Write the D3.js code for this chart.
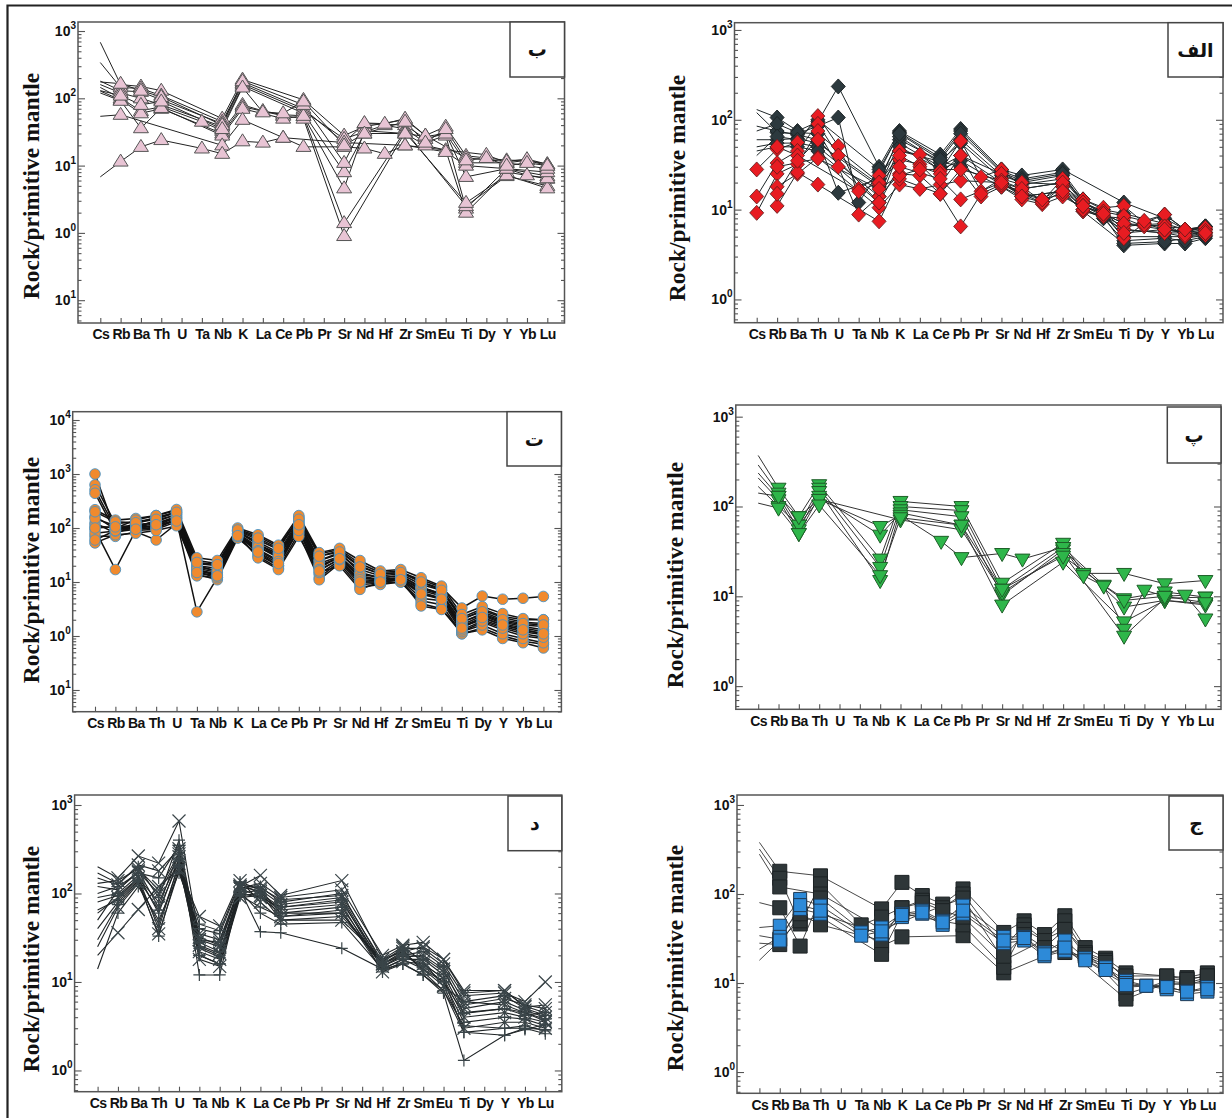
<!DOCTYPE html>
<html><head><meta charset="utf-8">
<script src="https://cdn.jsdelivr.net/npm/d3@7"></script>
<style>body{margin:0;background:#fff}svg{display:block}</style>
</head><body><svg id="c" width="1232" height="1118"></svg>
<script>
const _ = null;
const elements = ["Cs","Rb","Ba","Th","U","Ta","Nb","K","La","Ce","Pb","Pr","Sr","Nd","Hf","Zr","Sm","Eu","Ti","Dy","Y","Yb","Lu"];

// Panel ب (triangles)
const beSeries = [
 [680,160,150,130,_,_,50,190,_,_,95,_,28,38,_,48,28,38,14,_,12,12,10.5],
 [340,145,140,110,_,_,45,170,_,_,70,_,22,42,_,40,25,30,11,_,11,12,10],
 [180,130,125,95,_,_,42,160,_,_,65,_,25,_,40,35,22,28,2.3,_,9,_,7],
 [160,120,100,80,_,_,38,150,_,_,60,_,8,30,_,30,20,17,2.0,_,8,_,6.4],
 [145,100,65,75,_,45,33,80,65,57,55,_,1.4,_,_,33,_,_,2.5,_,7,_,5],
 [128,95,60,70,_,_,30,75,_,55,50,_,0.9,_,_,31,_,_,2.8,_,7.2,_,4.6],
 [120,92,36,72,_,_,28,70,_,50,55,_,4.6,33,_,30,27,30,6.8,_,9,7.2,6.5],
 [54,57,_,_,_,_,20,48,_,26,_,_,22,_,_,20,_,16,10,_,9,_,8],
 [6.8,11.5,19,24,_,18,15,23,22,26,19,_,19,18,15,20,_,_,_,14.5,11,_,9],
 [175,165,130,105,_,_,40,180,_,_,80,_,11,43,42,50,28,_,13,_,11.5,12.5,10.5],
 [130,110,80,90,_,_,35,145,62,60,90,_,20,30,_,45,22,35,12,13,10,11,10]
];
// Panel الف (dark and red diamonds)
const alefDark = [
 [130,106,75,95,235,_,30,75,_,41,79,_,28,24,_,28,_,_,12,_,8,6,6.5],
 [120,72,70,85,106,12,26,72,_,38,75,_,27,22,_,26,13,10,9,_,7,6,6.5],
 [85,75,68,60,15.4,_,22,60,_,35,55,_,22,19,_,22,12,9,5,_,5,5,5.5],
 [60,60,62,55,_,_,18,55,_,30,40,_,20,17,_,20,11,8.5,4,_,4.2,4.2,4.8],
 [50,55,55,50,_,_,14,50,_,28,35,_,19,15,13,18,10,8,4.5,_,4.8,4.5,5],
 [45,50,50,45,_,_,12,45,_,_,30,_,18,14,_,16,9.6,_,4.2,_,4.4,_,5.2],
 [75,90,72,70,_,_,20,65,_,33,60,_,24,20,_,24,12,9.5,6,_,5.5,5,6],
 [40,65,60,100,_,_,28,70,_,36,70,_,26,21,_,25,12,9,7,_,6,5.5,6.5]
];
const alefRed = [
 [28,47,56,110,51,17,24,45,41,27,58,23,28,18,12.4,22,13,10.5,11,7.1,8.8,6,6.2],
 [14,33,45,90,40,_,19,36,32,19,40,16,22,14,12,16,9.6,8.4,8,6.5,6.8,5,5.2],
 [9.2,25,32,75,30,8.8,14,25,24,15,28,14,18,13,11.5,14,_,_,6,_,5.5,5.5,5.5],
 [_,18,25,38,_,_,10.5,19,17,_,21,_,20,15,12,18,11,9,4.8,7,6,5.5,6],
 [_,11,26,19,_,_,7.4,22,_,15,6.5,15,19,16,13,15,10,8.5,6.5,6.8,7,5.2,5.6],
 [_,50,40,_,_,16,20,40,30,25,40,_,25,20,_,19,12,9.5,8.5,7.5,8.8,6,6.3],
 [_,30,_,37,_,_,17,24,28,_,28,_,21,17,_,20,11,9,7,_,6.5,_,5.8],
 [_,15,35,60,_,_,12,30,_,22,13,_,20,14,_,16,11,9,5.5,_,6,_,5.5]
];
// Panel ت (orange circles)
const teSeries = [
 [1000,90,110,130,180,20,16,85,50,30,130,25,35,15,12,13,8,6,1.8,2.5,1.8,1.5,1.3],
 [630,120,130,150,200,25,22,95,70,45,150,33,40,22,15,16,10,7.5,2.2,3.2,2.3,2.0,2.0],
 [510,100,100,110,160,17,14,80,40,25,110,18,30,12,11,12,6,5,1.5,2.2,1.6,1.3,1.1],
 [440,85,95,100,150,15,12,75,35,20,100,14,25,10,10,11,5,4.5,1.2,1.8,1.3,1.0,0.9],
 [218,140,150,170,210,22,20,90,60,40,160,30,38,20,14,15,11,8,3.3,5.5,4.8,5,5.4],
 [164,95,120,160,190,18,15,85,55,35,140,25,33,17,13,14,9,7,2.0,3.0,2.2,1.8,1.7],
 [124,80,110,100,140,2.8,12,70,45,28,120,20,28,13,11,12,7,5.5,1.6,2.4,1.7,1.4,1.2],
 [93,17,90,95,130,14,11,65,32,20,95,12,24,9,9.5,10,4.5,3.8,1.1,1.4,1.0,0.8,0.7],
 [70,70,85,60,120,13,12,70,30,18,80,11,22,8,9,10,4,3.2,1.1,1.3,0.9,0.75,0.6],
 [53,75,80,90,110,16,14,75,28,17,70,15,20,7.3,10,11,3.6,3.1,1.2,1.6,1.1,0.9,0.75],
 [110,100,140,170,220,28,25,100,75,48,170,35,42,25,16,17,12,8.4,2.5,3.5,2.6,2.1,2.0],
 [150,110,105,120,165,20,18,90,50,33,125,22,30,14,12,13,8,6,1.8,2.6,1.9,1.6,1.5],
 [80,88,100,140,175,19,16,80,45,30,105,20,28,12,11,12,7.5,5.8,1.5,2.0,1.5,1.2,1.05],
 [60,90,115,125,150,17,13,78,38,24,90,17,26,11,10.5,11.5,6.5,5,1.3,1.9,1.4,1.1,0.95],
 [200,130,125,145,195,23,21,92,65,42,145,30,36,19,14,15,10,7,2.1,2.8,2.0,1.7,1.6],
 [100,105,95,115,135,15,13,72,36,22,115,16,27,10,10,11,6,4.8,1.4,2.2,1.6,1.3,1.1]
];
// Panel پ (green inverted triangles)
const peSeries = [
 [370,160,77,175,_,_,26,114,_,_,100,_,14,_,_,39,18,_,18,_,13.8,_,15],
 [290,141,62,160,_,_,21,100,_,_,90,_,12,_,_,35,_,13.3,9.4,_,11.2,_,9.8],
 [236,130,55,147,_,_,15,92,_,_,77,_,10.3,_,_,33,_,_,7.6,_,9,_,8.3],
 [208,119,50,130,_,_,48,85,_,_,62,_,8,_,_,24,_,_,5.2,_,9,_,8],
 [167,100,62,120,_,_,60,80,_,41,27,_,30,26,_,35,17,13,4.3,11.7,10,10.3,5.6],
 [141,130,77,120,_,_,_,71,_,_,55,_,11,_,_,30,_,_,3.6,_,9.5,_,9.8],
 [109,96,50,104,_,_,17,75,_,_,62,_,12,_,_,28,_,_,9,_,10,_,8.5]
];
// Panel د (asterisks)
const dalSeries = [
 [200,150,265,220,660,30,25,120,160,95,_,_,140,_,18,22,25,18,7.5,_,8,5.3,4.5],
 [170,130,200,90,400,25,20,110,120,80,_,_,100,_,16,20,22,15,6,_,7,5,4.2],
 [120,110,180,70,300,22,18,100,110,75,_,_,90,_,15,19,20,14,5,_,6,4.8,4],
 [90,100,160,60,250,20,16,95,100,70,_,_,85,_,14,18,18,12,4.5,_,5,4.5,3.8],
 [60,90,150,40,220,18,15,90,95,65,_,_,75,_,13,17,16,11,4,_,4.5,4,3.5],
 [40,80,140,33,200,28,22,100,90,60,_,_,70,_,15,20,15,10,3.5,_,4,3.8,3.2],
 [25,70,130,35,180,35,30,120,105,55,_,_,60,_,16,22,14,9,3,_,3.5,3.5,3],
 [14,60,120,50,170,40,35,130,100,50,_,_,55,_,17,23,13,8,2.7,_,3,3.2,2.8],
 [20,36,66,120,190,55,43,140,80,50,_,_,50,_,18,25,17,9,6,_,5.5,4.5,3.6],
 [100,120,170,150,350,12,12,110,37,36,_,_,24,_,14,16,12,7.5,1.3,_,2.5,3,2.6],
 [130,140,190,110,280,30,28,125,115,85,_,_,95,_,17,24,24,16,7,_,7.5,6,10],
 [80,95,150,80,240,24,19,105,60,45,_,_,47,_,14,18,14,10,4.4,_,5,4.2,4.5],
 [50,110,175,100,260,26,21,115,130,90,_,_,110,_,20,26,28,18,8,_,8,5.2,5.5],
 [30,75,135,45,210,20,16,95,70,55,_,_,65,_,13,16,12,8,3.2,_,3,3,2.9],
 [150,125,210,180,320,32,26,115,90,70,_,_,80,_,16,21,19,13,5.5,_,6.5,5.5,5],
 [65,85,145,65,230,45,38,135,110,60,_,_,60,_,15,20,16,11,2.7,_,2.5,2.9,3.3]
];
// Panel ج (dark and blue squares)
const jimDark = [
 [380,180,_,160,_,_,68,135,96,77,114,_,37,50,35,57,25,19,13,_,12,11.5,13],
 [320,150,46,130,_,45,55,70,85,70,100,_,25,45,30,50,22,18,11,_,11,11,12],
 [280,120,_,100,_,_,40,_,_,_,90,_,18,_,_,40,_,_,7.5,_,10.5,10,11.5],
 [80,70,26,90,_,_,26,33,_,_,34,_,13,_,_,25,_,_,6.6,_,10,9.5,11],
 [34,31,50,55,_,_,21,60,_,_,45,_,15,40,_,22,20,16,9,_,9.5,10,10],
 [28,27,60,45,_,_,30,70,80,65,55,_,20,35,25,40,21,17,12,_,12,11,12]
];
const jimBlue = [
 [42,44,88,74,_,37,42,60,65,50,74,_,33,33,22,30,19,15,10.6,9.3,9,8,9],
 [24,33,68,60,_,_,35,55,60,45,60,_,28,30,20,23,18,14,10,9.3,8.5,7.5,8],
 [18,30,75,65,_,34,38,58,62,48,65,_,30,32,21,25,_,_,9.5,_,9,8,8.5]
];

// tick labels
const ticks3to_1 = [1e3,1e2,1e1,1e0,1e-1], sup3to_1 = ["3","2","1","0","1"];
const ticks4to_1 = [1e4,1e3,1e2,1e1,1e0,1e-1], sup4to_1 = ["4","3","2","1","0","1"];
const ticks3to0 = [1e3,1e2,1e1,1e0], sup3to0 = ["3","2","1","0"];
const yTitle = "Rock/primitive mantle";

// ---------- layout / style ----------
const svg = d3.select("#c");
svg.append("rect").attr("width",1232).attr("height",1118).attr("fill","#fff");
svg.append("path").attr("d","M7.5,1118V5.5H1232").attr("fill","none").attr("stroke","#222").attr("stroke-width",2.2);

function triUp(w,h){return `M0,${-h*0.62}L${w/2},${h*0.38}L${-w/2},${h*0.38}Z`;}
function triDown(w,h){return `M0,${h*0.62}L${w/2},${-h*0.38}L${-w/2},${-h*0.38}Z`;}
function diamond(w,h){return `M0,${-h/2}L${w/2},0L0,${h/2}L${-w/2},0Z`;}
function square(s){return `M${-s/2},${-s/2}h${s}v${s}h${-s}Z`;}
function xmark(s){const r=s/2;return `M${-r},${-r}L${r},${r}M${-r},${r}L${r},${-r}`;}
function pmark(s){const r=s/2;return `M${-r},0H${r}M0,${-r}V${r}`;}

const panels = [
 {letter:"ب", x0:78,x1:564.5,y0:22,y1:323,cx0:100.3,cx1:547.3,lo:-1.339,hi:3.134,
  ticks:ticks3to_1,sups:sup3to_1, titleX:31,titleY:186, box:[510,22,564.5,77],
  groups:[{data:beSeries,skipCs:true,lineColor:"#222",lw:1,
    mark:{d:triUp(15,12),fill:"#e8c4d4",stroke:"#555",sw:1}}]},
 {letter:"الف", x0:734.5,x1:1223,y0:22.7,y1:322.7,cx0:756.7,cx1:1205.4,lo:-0.259,hi:3.081,
  ticks:ticks3to0,sups:sup3to0, titleX:677,titleY:188, box:[1168,22.7,1223,77],
  groups:[{data:alefDark,skipCs:true,lineColor:"#1e2628",lw:1,
      mark:{d:diamond(14,15),fill:"#2c393e",stroke:"#1e2628",sw:1}},
    {data:alefRed,skipCs:false,lineColor:"#1e2628",lw:1,
      mark:{d:diamond(14,15),fill:"#e81c22",stroke:"#5a1a1a",sw:0.8}}]},
 {letter:"ت", x0:72.7,x1:561.4,y0:411.7,y1:711.7,cx0:95,cx1:543.4,lo:-1.402,hi:4.154,
  ticks:ticks4to_1,sups:sup4to_1, titleX:31,titleY:570, box:[507,411.7,561.4,466],
  groups:[{data:teSeries,skipCs:false,lineColor:"#111",lw:1.5,
    mark:{circle:5.3,fill:"#f08a2e",stroke:"#4b93c4",sw:0.9}}]},
 {letter:"پ", x0:735.8,x1:1221,y0:405,y1:709.3,cx0:758.2,cx1:1205.4,lo:-0.258,hi:3.130,
  ticks:ticks3to0,sups:sup3to0, titleX:675,titleY:575, box:[1167.3,407,1221,463],
  groups:[{data:peSeries,skipCs:true,lineColor:"#333",lw:1,
    mark:{d:triDown(15,13),fill:"#2eb64a",stroke:"#1d5e27",sw:1}}]},
 {letter:"د", x0:74.6,x1:561.8,y0:795,y1:1091.7,cx0:97.6,cx1:545.3,lo:-0.240,hi:3.113,
  ticks:ticks3to0,sups:sup3to0, titleX:31,titleY:959, box:[508,796,561.8,850.7],
  groups:[{data:dalSeries,skipCs:true,lineColor:"#1f2426",lw:1.1,
    mark:{alt:[xmark(13),pmark(12)],fill:"none",stroke:"#3a4549",sw:1.2}}]},
 {letter:"ج", x0:737,x1:1223,y0:795,y1:1093.3,cx0:759.4,cx1:1207.4,lo:-0.239,hi:3.112,
  ticks:ticks3to0,sups:sup3to0, titleX:675,titleY:958, box:[1169,796,1223,850],
  groups:[{data:jimDark,skipCs:true,lineColor:"#333",lw:0.9,
      mark:{d:square(14),fill:"#2e3638",stroke:"#1c2224",sw:1}},
    {data:jimBlue,skipCs:true,lineColor:"#333",lw:0.9,
      mark:{d:square(13),fill:"#2d8ad8",stroke:"#1e3a55",sw:1}}]}
];

function drawPanel(p){
  const g = svg.append("g");
  const x = d3.scalePoint().domain(elements).range([p.cx0,p.cx1]);
  const y = d3.scaleLog().domain([Math.pow(10,p.lo),Math.pow(10,p.hi)]).range([p.y1,p.y0]);
  const minors = [];
  for(let d=Math.floor(p.lo); d<=Math.ceil(p.hi); d++) for(let k=2;k<=9;k++){const v=k*Math.pow(10,d); if(Math.log10(v)>p.lo && Math.log10(v)<p.hi) minors.push(v);}

  const axStyle = sel => { sel.select(".domain").remove(); sel.selectAll("line").attr("stroke","#555").attr("stroke-width",1.1); sel.selectAll("text").remove(); };
  g.append("g").attr("transform",`translate(${p.x0},0)`).call(d3.axisRight(y).tickValues(p.ticks).tickSize(7).tickFormat("")).call(axStyle);
  g.append("g").attr("transform",`translate(${p.x0},0)`).call(d3.axisRight(y).tickValues(minors).tickSize(3.5).tickFormat("")).call(axStyle);
  g.append("g").attr("transform",`translate(${p.x1},0)`).call(d3.axisLeft(y).tickValues(p.ticks).tickSize(7).tickFormat("")).call(axStyle);
  g.append("g").attr("transform",`translate(${p.x1},0)`).call(d3.axisLeft(y).tickValues(minors).tickSize(3.5).tickFormat("")).call(axStyle);
  const xa = g.append("g").attr("transform",`translate(0,${p.y1})`).call(d3.axisBottom(x).tickSize(-5).tickPadding(6.5));
  xa.select(".domain").remove();
  xa.selectAll("line").attr("stroke","#555").attr("stroke-width",1.1);
  xa.selectAll("text").attr("font-family","'Liberation Sans',Arial,sans-serif").attr("font-weight","bold")
    .attr("font-size",14).attr("letter-spacing","-0.6px").attr("fill","#111");

  g.append("rect").attr("x",p.x0).attr("y",p.y0).attr("width",p.x1-p.x0).attr("height",p.y1-p.y0)
    .attr("fill","none").attr("stroke","#555").attr("stroke-width",1.5);

  p.ticks.forEach((v,i)=>{
    const t = g.append("text").attr("x",p.x0-2).attr("y",y(v)+5).attr("text-anchor","end")
      .attr("font-family","'Liberation Sans',Arial,sans-serif").attr("font-weight","bold").attr("font-size",14).attr("fill","#111");
    t.append("tspan").text("10");
    t.append("tspan").attr("dy",-7).attr("font-size",10).text(p.sups[i]);
  });

  g.append("text").attr("transform",`translate(${p.titleX},${p.titleY}) rotate(-90)`).attr("text-anchor","middle").attr("dy","0.32em")
    .attr("font-family","'Liberation Serif','Times New Roman',serif").attr("font-weight","bold").attr("font-size",23.5).attr("fill","#111")
    .text(yTitle);

  const line = d3.line().x(d=>x(elements[d.i])).y(d=>y(d.v));
  const pts = arr => arr.map((v,i)=>({i,v})).filter(d=>d.v!=null);
  p.groups.forEach(gr=>{
    gr.data.forEach(s=>{
      g.append("path").attr("d",line(pts(s))).attr("fill","none").attr("stroke",gr.lineColor).attr("stroke-width",gr.lw);
    });
  });
  p.groups.forEach(gr=>{
    gr.data.forEach((s,si)=>{
      pts(s).filter(d=>!(gr.skipCs && d.i===0)).forEach(d=>{
        const cx=x(elements[d.i]), cy=y(d.v), m=gr.mark;
        if(m.circle){
          g.append("circle").attr("cx",cx).attr("cy",cy).attr("r",m.circle).attr("fill",m.fill).attr("stroke",m.stroke).attr("stroke-width",m.sw);
        } else {
          const dd = m.alt ? m.alt[si%2] : m.d;
          g.append("path").attr("d",dd).attr("transform",`translate(${cx},${cy})`).attr("fill",m.fill).attr("stroke",m.stroke).attr("stroke-width",m.sw);
        }
      });
    });
  });

  const b = p.box;
  g.append("rect").attr("x",b[0]).attr("y",b[1]).attr("width",b[2]-b[0]).attr("height",b[3]-b[1]).attr("fill","#fff").attr("stroke","#444").attr("stroke-width",1.5);
  g.append("text").attr("x",(b[0]+b[2])/2).attr("y",(b[1]+b[3])/2).attr("dy","0.35em").attr("text-anchor","middle")
    .attr("font-family","'DejaVu Sans',sans-serif").attr("font-weight","bold").attr("font-size",19).attr("fill","#111").text(p.letter);
}
panels.forEach(drawPanel);
</script></body></html>
